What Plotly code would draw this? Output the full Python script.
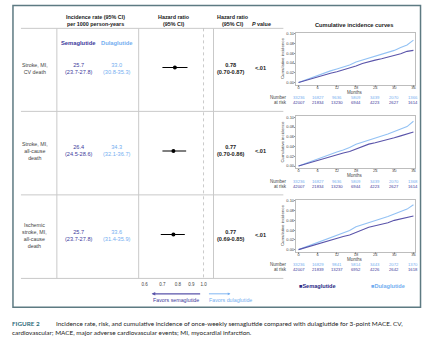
import plotly.graph_objects as go

W, H = 433, 349
def px(x): return x / W
def py(y): return 1 - y / H

# ---------------- data ----------------
outcomes = ["Stroke, MI,<br>CV death",
            "Stroke, MI,<br>all-cause<br>death",
            "Ischemic<br>stroke, MI,<br>all-cause<br>death"]
sema_rate = ["25.7", "26.4", "25.7"]
sema_ci = ["(23.7-27.8)", "(24.5-28.6)", "(23.7-27.8)"]
dula_rate = ["33.0", "34.3", "33.6"]
dula_ci = ["(30.8-35.3)", "(32.1-36.7)", "(31.4-35.9)"]
hr = [0.78, 0.77, 0.77]
hr_lo = [0.70, 0.70, 0.69]
hr_hi = [0.87, 0.86, 0.85]
p_values = ["<.01", "<.01", "<.01"]
hr_ticks = [0.6, 0.7, 0.8, 0.9, 1.0]
hr_ticktext = ["0.6", "0.7", "0.8", "0.9", "1.0"]

months = [0, 2, 4, 6, 8, 10, 12, 14, 16, 18, 20, 22, 24, 26, 28, 30, 32, 34, 36]
dula_curves = [
    [0, .005, .010, .015, .019, .024, .028, .032, .036, .042, .046, .050, .055, .059, .062, .066, .072, .077, .087],
    [0, .005, .010, .015, .020, .025, .029, .033, .038, .045, .049, .053, .058, .062, .066, .071, .076, .081, .092],
    [0, .005, .010, .015, .020, .025, .030, .034, .039, .047, .051, .055, .060, .064, .068, .073, .078, .083, .092],
]
sema_curves = [
    [0, .004, .008, .012, .015, .019, .022, .026, .029, .034, .039, .043, .046, .049, .052, .056, .059, .064, .066],
    [0, .004, .008, .012, .016, .020, .023, .027, .030, .035, .040, .045, .048, .051, .054, .058, .062, .066, .070],
    [0, .004, .008, .012, .016, .020, .023, .027, .030, .035, .040, .046, .049, .052, .055, .060, .063, .067, .069],
]
risk_months = [0, 6, 12, 18, 24, 30, 36]
dula_risk = [
    ["33236", "16827", "9636", "5809", "3439", "2070", "1366"],
    ["33236", "16827", "9636", "5809", "3439", "2070", "1368"],
    ["33236", "16829", "9841", "5814", "3443", "2072", "1370"],
]
sema_risk = [
    ["42007", "21834", "13230", "6944", "4223", "2627", "1614"],
    ["42007", "21834", "13230", "6944", "4223", "2627", "1614"],
    ["42007", "21839", "13237", "6952", "4226", "2642", "1618"],
]
y_ticks = [0, 0.02, 0.04, 0.06, 0.08, 0.10]

# ---------------- style ----------------
SEMA = "#3d3a9c"
DULA = "#74aef0"
SEMA_LINE = "#5a54aa"
DULA_LINE = "#93c2f4"
TXT = "#333333"
GRID = "#c9c9c9"
FONT = "Liberation Sans, Arial, DejaVu Sans, sans-serif"
CAPFONT = "Lato, DejaVu Sans, sans-serif"

annotations = []
shapes = []

def ann(x, y, text, size, color="#333", xanchor="center", family=FONT, xref="paper", **kw):
    d = dict(x=(px(x) if xref == "paper" else x), y=py(y), xref=xref, yref="paper",
             text=text, showarrow=False, xanchor=xanchor, yanchor="middle",
             font=dict(size=size, color=color, family=family))
    d.update(kw)
    annotations.append(d)

fig = go.Figure()

# forest plot
fig.add_trace(go.Scatter(
    x=hr, y=[0.5, 1.5, 2.5], mode="markers",
    marker=dict(color="black", size=4, symbol="circle"),
    error_x=dict(type="data", symmetric=False,
                 array=[h - e for h, e in zip(hr_hi, hr)],
                 arrayminus=[e - l for e, l in zip(hr, hr_lo)],
                 color="black", thickness=1.1, width=0),
    xaxis="x", yaxis="y", showlegend=False, hoverinfo="skip"))

layout_axes = {}
layout_axes["xaxis"] = dict(domain=[px(139), px(214)], type="log",
                            range=[-0.2444, 0.0376], tickvals=hr_ticks, ticktext=hr_ticktext,
                            showgrid=False, zeroline=False, showline=False, ticks="",
                            ticklabelstandoff=2,
                            tickfont=dict(size=4.5, color="#444", family=FONT),
                            anchor="y", fixedrange=True)
layout_axes["yaxis"] = dict(domain=[py(278), py(26)], range=[3.025, 0.025],
                            visible=False, anchor="x", fixedrange=True)

top0, bot0 = 31, 83
for i in range(3):
    xa = f"x{i+2}"
    ya = f"y{i+2}"
    off = 84 * i
    fig.add_trace(go.Scatter(x=months, y=dula_curves[i], mode="lines",
                             line=dict(color=DULA_LINE, width=1.1),
                             xaxis=xa, yaxis=ya, showlegend=False, hoverinfo="skip"))
    fig.add_trace(go.Scatter(x=months, y=sema_curves[i], mode="lines",
                             line=dict(color=SEMA_LINE, width=1.1),
                             xaxis=xa, yaxis=ya, showlegend=False, hoverinfo="skip"))
    layout_axes[f"xaxis{i+2}"] = dict(domain=[px(297), px(416)], range=[-0.7, 36.5],
                                      tickvals=risk_months, showgrid=False, zeroline=False,
                                      showline=True, mirror=True, linecolor="#bdbdbd", linewidth=0.8,
                                      ticks="outside", ticklen=1.5, tickcolor="#999", tickwidth=0.6,
                                      ticklabelstandoff=-3,
                                      tickfont=dict(size=4, color="#444", family=FONT),
                                      anchor=ya, fixedrange=True)
    layout_axes[f"yaxis{i+2}"] = dict(domain=[py(bot0 + off), py(top0 + off)], range=[-0.004, 0.102],
                                      tickvals=y_ticks, tickformat=".2f", showgrid=False, zeroline=False,
                                      showline=True, mirror=True, linecolor="#bdbdbd", linewidth=0.8,
                                      ticks="outside", ticklen=1.5, tickcolor="#999", tickwidth=0.6,
                                      ticklabelstandoff=-1,
                                      tickfont=dict(size=4, color="#444", family=FONT),
                                      anchor=xa, fixedrange=True)
    # axis titles and number at risk
    ann(356, 91 + off, "Months", 4.5, "#444")
    ann(283, 57 + off, "Cumulative incidence", 4.3, "#444", textangle=-90)
    ann(290, 96.3 + off, "Number", 4.5, "#444", xanchor="right")
    ann(290, 101.5 + off, "at risk", 4.5, "#444", xanchor="right")
    for m, d, s in zip(risk_months, dula_risk[i], sema_risk[i]):
        ann(m, 96.3 + off, d, 4.2, DULA, xref=xa)
        ann(m, 101.5 + off, s, 4.2, SEMA, xref=xa)

    # table row text
    label_y = [66.5, 150, 234.5][i]
    ann(35, label_y, outcomes[i], 5.3, "#444")
    val_y = [66.5, 149.5, 234.5][i]
    ann(79, val_y, f"{sema_rate[i]}<br>{sema_ci[i]}", 5.6, SEMA)
    ann(117, val_y, f"{dula_rate[i]}<br>{dula_ci[i]}", 5.6, DULA)
    ann(232, val_y, f"<b>{hr[i]:.2f}<br>({hr_lo[i]:.2f}-{hr_hi[i]:.2f})</b>", 5.6, "#222")
    ann(261, val_y, f"<b>{p_values[i]}</b>", 5.6, "#222")

# headers
ann(96, 19, "<b>Incidence rate (95% CI)<br>per 1000 person-years</b>", 5.4, "#222")
ann(174, 19, "<b>Hazard ratio<br>(95% CI)</b>", 5.4, "#222")
ann(234, 19, "<b>Hazard ratio<br>(95% CI)</b>", 5.4, "#222")
ann(262, 22.3, "<b><i>P</i> value</b>", 5.4, "#222")
ann(355, 23, "<b>Cumulative incidence curves</b>", 5.7, "#222")
ann(79, 41, "<b>Semaglutide</b>", 5.8, SEMA)
ann(117, 41, "<b>Dulaglutide</b>", 5.8, DULA)

# favors arrows
annotations.append(dict(x=px(152), y=py(293.5), ax=50, ay=0, xref="paper", yref="paper",
                        axref="pixel", ayref="pixel", text="", showarrow=True, arrowhead=2,
                        arrowsize=0.6, arrowwidth=1.2, arrowcolor=SEMA_LINE))
annotations.append(dict(x=px(231), y=py(293.5), ax=-23, ay=0, xref="paper", yref="paper",
                        axref="pixel", ayref="pixel", text="", showarrow=True, arrowhead=2,
                        arrowsize=0.6, arrowwidth=0.9, arrowcolor=DULA))
ann(176, 300, "Favors semaglutide", 5.3, SEMA)
ann(231.5, 300, "Favors dulaglutide", 5.3, DULA)

# legend
ann(298, 286, "<b>■Semaglutide</b>", 5.6, "#2a2a86", xanchor="left")
ann(370, 286, "<b>■Dulaglutide</b>", 5.6, DULA, xanchor="left")

# caption
ann(10, 323, "<b>FIGURE 2</b>", 6.3, "#2f6e7c", xanchor="left", family=CAPFONT)
ann(54, 323, "Incidence rate, risk, and cumulative incidence of once-weekly semaglutide compared with dulaglutide for 3-point MACE. CV,",
    6.4, "#222", xanchor="left", family=CAPFONT)
ann(10, 332, "cardiovascular; MACE, major adverse cardiovascular events; MI, myocardial infarction.",
    6.4, "#222", xanchor="left", family=CAPFONT)

# table lines
for yline in [26.5, 110, 194, 278]:
    shapes.append(dict(type="line", xref="paper", yref="paper", x0=px(21), x1=px(284),
                       y0=py(yline), y1=py(yline), line=dict(color=GRID, width=1)))
for xline in [57, 139, 214]:
    shapes.append(dict(type="line", xref="paper", yref="paper", x0=px(xline), x1=px(xline),
                       y0=py(26.5), y1=py(278), line=dict(color=GRID, width=1)))
shapes.append(dict(type="line", xref="x", yref="paper", x0=1.0, x1=1.0,
                   y0=py(26.5), y1=py(278), line=dict(color="#bdbdbd", width=0.8, dash="dot")))
# outer box
shapes.append(dict(type="rect", xref="paper", yref="paper", x0=px(13), x1=px(421.5),
                   y0=py(307), y1=py(3.5), line=dict(color="#5d7a82", width=1.5)))

fig.update_layout(
    width=W, height=H, autosize=False,
    margin=dict(l=0, r=0, t=0, b=0),
    paper_bgcolor="white", plot_bgcolor="rgba(0,0,0,0)",
    font=dict(family=FONT, color=TXT),
    annotations=annotations, shapes=shapes, showlegend=False,
    **layout_axes,
)

fig.write_html("out.html")
